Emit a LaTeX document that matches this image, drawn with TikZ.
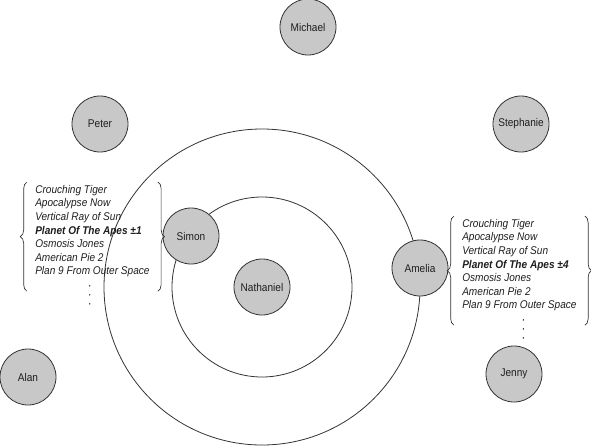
\documentclass[tikz,border=0pt]{standalone}
\usepackage{fontspec}
\setmainfont{Liberation Sans}[FakeStretch=0.9]
\usepackage{tikz}
\usetikzlibrary{positioning,calc,backgrounds,decorations.pathreplacing}
\definecolor{ink}{HTML}{333333}
\definecolor{disc}{HTML}{C8C8C8}
\definecolor{txt}{HTML}{1E1E1E}
\tikzset{
  person/.style={circle,draw=ink,fill=disc,line width=0.6pt,minimum size=42pt,inner sep=0pt,font=\fontsize{8.4}{10}\selectfont,text=txt},
  orbit/.style={draw=ink,line width=0.6pt},
  movies/.style={anchor=north west,align=left,inner xsep=6pt,inner ysep=2.25pt,font=\fontsize{8.4}{10.2}\selectfont\itshape,text=txt},
  curly/.style={draw=ink,line width=0.5pt,decorate,decoration={brace,amplitude=5pt}},
}
\begin{document}
\begin{tikzpicture}[x=0.75pt,y=-0.75pt]
\useasboundingbox (0,0) rectangle (591,446);
% people
\node[person] (nathaniel) at (262,287) {Nathaniel};
\node[person] (simon) at (191,236) {Simon};
\node[person] (amelia) at (420,268) {Amelia};
\node[person] (michael) at (308,27) {Michael};
\node[person] (peter) at (100,124) {Peter};
\node[person] (stephanie) at (521,124) {Stephanie};
\node[person] (alan) at (28,377) {Alan};
\node[person] (jenny) at (514,374) {Jenny};
% orbits round Nathaniel
\begin{scope}[on background layer]
\draw[orbit] (nathaniel.center) circle [radius=90];
\draw[orbit] (nathaniel.center) circle [radius=158];
\end{scope}
% Simon's list
\node[movies] (simonlist) at (27,182) {Crouching Tiger\\Apocalypse Now\\Vertical Ray of Sun\\\textbf{Planet Of The Apes ±1}\\Osmosis Jones\\American Pie 2\\Plan 9 From Outer Space};
\coordinate[below=4pt of simonlist,xshift=-2pt] (simondots);
\foreach \k in {0,1,2} \fill[txt] ([yshift=-\k*6.75pt]simondots) circle [radius=0.8];
\draw[curly] ([yshift=-8pt]simonlist.south west) -- (simonlist.north west);
\draw[curly] (simonlist.north east) -- ([yshift=-8pt]simonlist.south east);
% Amelia's list
\node[movies] (amelialist) at (454,216) {Crouching Tiger\\Apocalypse Now\\Vertical Ray of Sun\\\textbf{Planet Of The Apes ±4}\\Osmosis Jones\\American Pie 2\\Plan 9 From Outer Space};
\coordinate[below=4pt of amelialist,xshift=3pt] (ameliadots);
\foreach \k in {0,1,2} \fill[txt] ([yshift=-\k*6.75pt]ameliadots) circle [radius=0.8];
\draw[curly] ([yshift=-8pt]amelialist.south west) -- (amelialist.north west);
\draw[curly] (amelialist.north east) -- ([yshift=-8pt]amelialist.south east);
\end{tikzpicture}
\end{document}
